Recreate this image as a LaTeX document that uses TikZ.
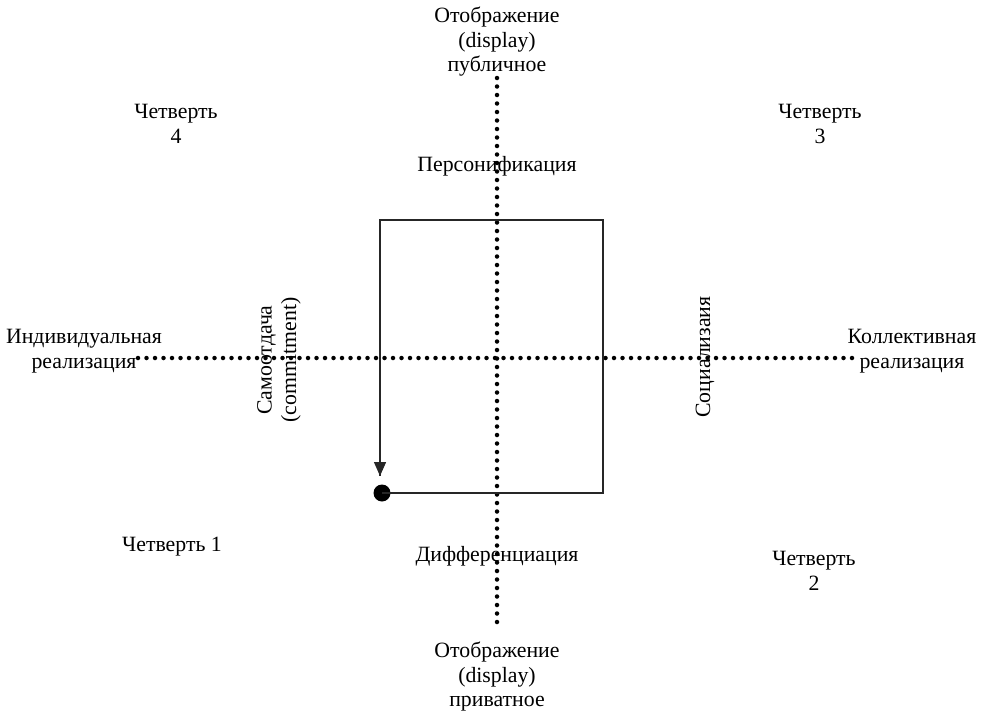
\documentclass[tikz,border=0pt]{standalone}
\usepackage{fontspec}
\setmainfont{Liberation Serif}
\usetikzlibrary{arrows.meta}
\begin{document}
\begin{tikzpicture}[x=1pt,y=-1pt,
  lbl/.style={font=\fontsize{21.8}{24.5}\selectfont, align=center, inner sep=0pt},
  axis/.style={line width=4.5pt, line cap=round, dash pattern=on 0pt off 8.5pt},
  frame/.style={line width=1.4pt, draw=black!85}]
\useasboundingbox (0,0) rectangle (989,712);
% axes
\coordinate (vtop) at (497,78);
\coordinate (vbot) at (497,625);
\coordinate (hl) at (138,358);
\coordinate (hr) at (852,358);
\draw[axis] (vtop) -- (vbot);
\draw[axis] (hl) -- (hr);
% frame path
\coordinate (tl) at (380,220);
\coordinate (tr) at (603,220);
\coordinate (br) at (603,493);
\coordinate (aend) at (380,476);
\node[circle, fill=black, inner sep=0pt, minimum size=17pt] (dot) at (382,493) {};
\draw[frame] (dot.center) -- (br) -- (tr) -- (tl) -- (aend);
\draw[frame, -{Triangle[length=14pt,width=12pt]}] (tl) -- (aend);
% labels
\node[lbl] (pub) at (497,42) {Отображение\\(display)\\публичное};
\node[lbl] (priv) at (497,677) {Отображение\\(display)\\приватное};
\node[lbl] (pers) at (497,166) {Персонификация};
\node[lbl] (diff) at (497,556) {Дифференциация};
\node[lbl] (q4) at (176,124) {Четверть\\4};
\node[lbl] (q3) at (820,124) {Четверть\\3};
\node[lbl] (q1) at (172,547) {Четверть 1};
\node[lbl] (q2) at (814,571) {Четверть\\2};
\node[lbl] (ind) at (84,351) {Индивидуальная\\реализация};
\node[lbl] (col) at (912,351) {Коллективная\\реализация};
\node[lbl, rotate=90] (sam) at (279,360) {Самоотдача\\(commitment)};
\node[lbl, rotate=90] (soc) at (705,357) {Социализаия};
\end{tikzpicture}
\end{document}
